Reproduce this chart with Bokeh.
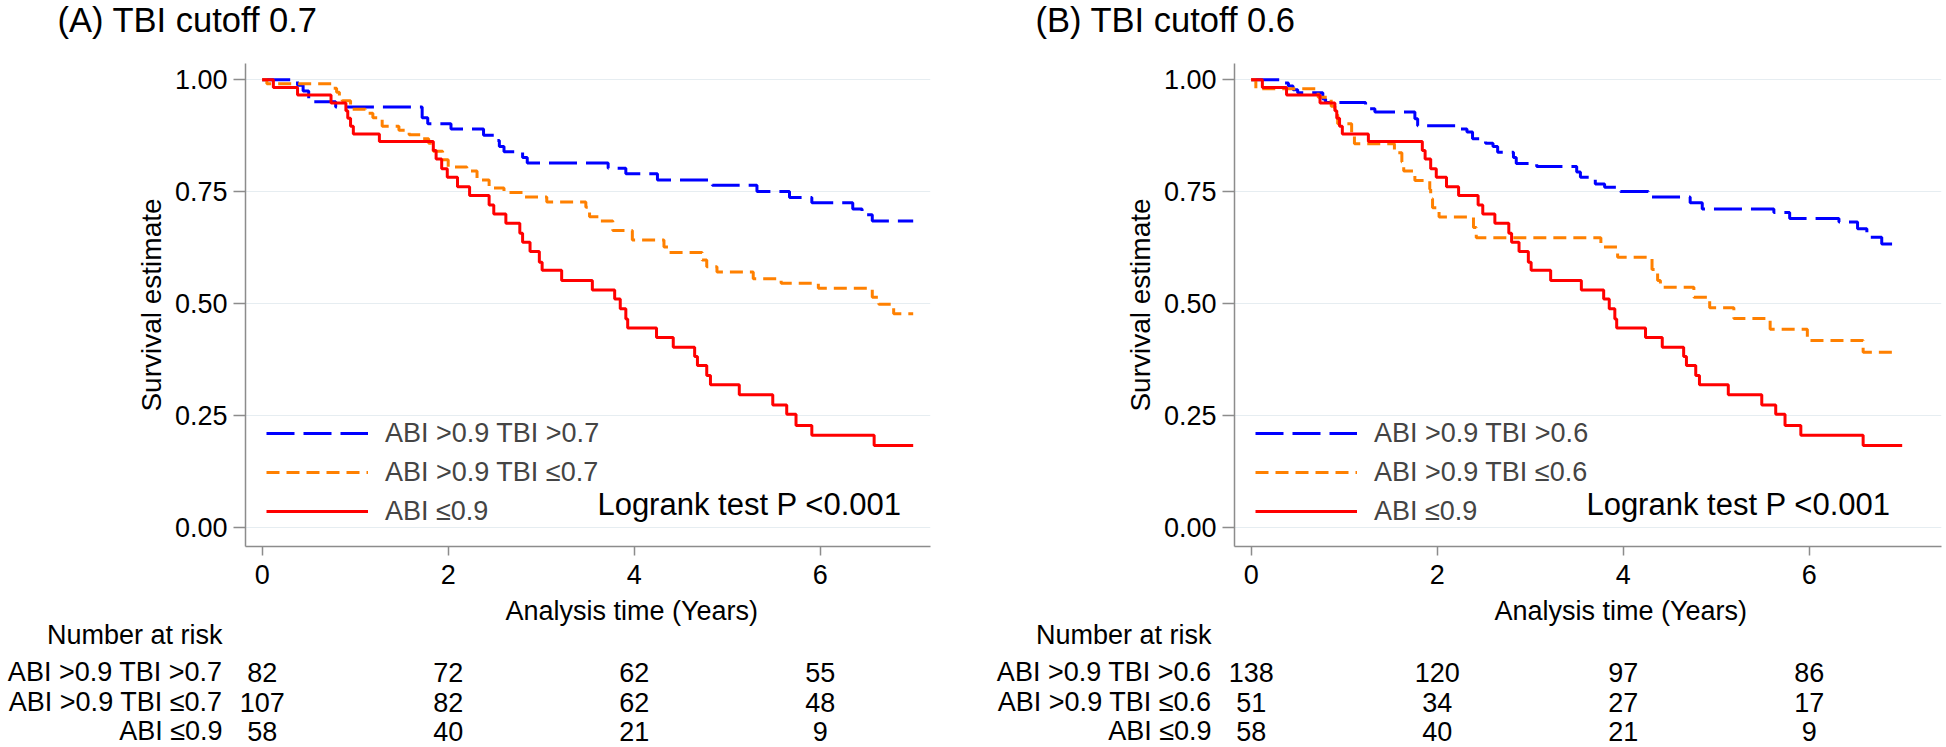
from bokeh.plotting import figure
from bokeh.models import Range1d, FixedTicker, PrintfTickFormatter, Legend, LegendItem
from bokeh.layouts import row
from bokeh.embed import file_html
from bokeh.resources import INLINE
from bokeh.core.properties import value

FONT = "Liberation Sans"

# ---------------- data ----------------
X_TICKS = [0, 2, 4, 6]
Y_TICKS = [0.0, 0.25, 0.5, 0.75, 1.0]
RISK_TIMES = [0, 2, 4, 6]

# Panel A: TBI cutoff 0.7
A_BLUE_T = [0, 0.38, 0.44, 0.50, 0.79, 1.72, 1.78, 2.03, 2.38, 2.50, 2.55, 2.60, 2.80, 2.85, 3.72, 3.91,
            4.25, 4.84, 5.32, 5.67, 5.91, 6.35, 6.45, 6.56, 7.00]
A_BLUE_S = [1.0, 0.988, 0.975, 0.951, 0.939, 0.915, 0.902, 0.890, 0.876, 0.864, 0.851, 0.839, 0.826, 0.814,
            0.802, 0.790, 0.776, 0.764, 0.750, 0.737, 0.725, 0.711, 0.698, 0.684, 0.684]
A_ORANGE_T = [0, 0.05, 0.745, 0.80, 0.83, 0.86, 0.95, 1.11, 1.19, 1.29, 1.47, 1.58, 1.73, 1.79, 1.84, 1.94,
              2.00, 2.20, 2.31, 2.44, 2.60, 2.80, 3.06, 3.48, 3.52, 3.64, 3.77, 3.98, 4.32, 4.37, 4.73, 4.78,
              4.89, 5.28, 5.58, 5.98, 6.56, 6.63, 6.79, 7.00]
A_ORANGE_S = [1.0, 0.991, 0.981, 0.972, 0.962, 0.953, 0.934, 0.925, 0.915, 0.896, 0.887, 0.877, 0.868, 0.858,
              0.840, 0.821, 0.805, 0.796, 0.776, 0.758, 0.748, 0.738, 0.727, 0.715, 0.694, 0.684, 0.663, 0.642,
              0.626, 0.614, 0.597, 0.582, 0.570, 0.555, 0.545, 0.534, 0.514, 0.498, 0.477, 0.477]
# ABI <=0.9 group (same group in both panels)
RED_T = [0, 0.12, 0.38, 0.74, 0.90, 0.92, 0.95, 0.98, 1.26, 1.84, 1.87, 1.93, 1.99, 2.10, 2.23, 2.44, 2.49,
         2.62, 2.77, 2.80, 2.88, 2.98, 3.01, 3.22, 3.55, 3.79, 3.85, 3.91, 3.93, 4.24, 4.42, 4.65, 4.68, 4.78,
         4.82, 5.13, 5.49, 5.64, 5.74, 5.91, 6.58, 7.00]
RED_S = [1.0, 0.983, 0.966, 0.948, 0.931, 0.914, 0.896, 0.879, 0.862, 0.842, 0.823, 0.801, 0.782, 0.761, 0.741,
         0.720, 0.700, 0.679, 0.657, 0.637, 0.616, 0.592, 0.574, 0.551, 0.530, 0.510, 0.488, 0.465, 0.445, 0.424,
         0.402, 0.381, 0.361, 0.339, 0.318, 0.296, 0.273, 0.252, 0.227, 0.205, 0.182, 0.182]

# Panel B: TBI cutoff 0.6
B_BLUE_T = [0, 0.36, 0.40, 0.45, 0.50, 0.77, 0.80, 1.23, 1.33, 1.76, 1.79, 2.25, 2.32, 2.38, 2.52, 2.60, 2.65,
            2.82, 2.85, 3.07, 3.50, 3.54, 3.70, 3.80, 3.97, 4.27, 4.72, 4.85, 5.62, 5.79, 6.32, 6.52, 6.62,
            6.78, 6.98]
B_BLUE_S = [1.0, 0.993, 0.986, 0.978, 0.971, 0.957, 0.949, 0.935, 0.928, 0.913, 0.897, 0.890, 0.883, 0.868,
            0.858, 0.851, 0.838, 0.826, 0.813, 0.806, 0.794, 0.782, 0.767, 0.760, 0.750, 0.738, 0.725, 0.711,
            0.703, 0.690, 0.682, 0.667, 0.648, 0.633, 0.633]
B_ORANGE_T = [0, 0.05, 0.72, 0.86, 0.90, 0.93, 1.08, 1.11, 1.54, 1.62, 1.64, 1.76, 1.92, 1.93, 1.95, 2.02,
              2.39, 2.42, 3.76, 3.94, 4.31, 4.37, 4.40, 4.76, 4.93, 5.19, 5.58, 5.98, 6.58, 6.94]
B_ORANGE_S = [1.0, 0.980, 0.961, 0.941, 0.922, 0.902, 0.878, 0.857, 0.837, 0.816, 0.796, 0.775, 0.755, 0.734,
              0.714, 0.693, 0.670, 0.647, 0.626, 0.603, 0.576, 0.551, 0.536, 0.514, 0.490, 0.466, 0.442, 0.417,
              0.391, 0.391]

A_LABELS = ["ABI >0.9 TBI >0.7", "ABI >0.9 TBI \u22640.7", "ABI \u22640.9"]
B_LABELS = ["ABI >0.9 TBI >0.6", "ABI >0.9 TBI \u22640.6", "ABI \u22640.9"]
RISK_A_HIGH = [82, 72, 62, 55]
RISK_A_LOW = [107, 82, 62, 48]
RISK_RED = [58, 40, 21, 9]
RISK_B_HIGH = [138, 120, 97, 86]
RISK_B_LOW = [51, 34, 27, 17]

# ---------------- layout / style ----------------
BLUE, ORANGE, RED = "#0000ff", "#ff8000", "#ff0000"
DASHES = ["28 9", "13 7", "solid"]
AXIS_COLOR = "#8c8c8c"
PPX = 93.0            # pixels per year
PPY = 447.2           # pixels per unit of survival
FRAME_LEFT = 245
X0_OFF = 16.7         # x = 0 lies this far right of the frame edge
HEAD_H = 63
FRAME_H = 483
AXIS_H = 49
KM_BOTTOM = HEAD_H + FRAME_H + AXIS_H
FOOT_H = 746 - KM_BOTTOM
X_START = -X0_OFF / PPX
Y_START = -19.5 / PPY
Y_END = 463.5 / PPY


def text(p, xs, ys, texts, size, align):
    p.text(x=xs, y=ys, text=texts, text_font=value(FONT), text_font_size=value(size),
           text_align=align, text_baseline="middle", text_color="black")


def strip(fig_w, h):
    xs = -(FRAME_LEFT + X0_OFF) / PPX
    p = figure(width=fig_w, height=h, output_backend="svg", toolbar_location=None,
               x_range=Range1d(xs, xs + fig_w / PPX), y_range=Range1d(h, 0),
               x_axis_location=None, y_axis_location=None,
               min_border=0, min_border_left=0, min_border_right=0, min_border_top=0, min_border_bottom=0)
    p.outline_line_color = None
    p.xgrid.visible = False
    p.ygrid.visible = False
    return p


def make_panel(title, title_px, fig_w, frame_w, curves, labels, risk):
    # panel title
    head = strip(fig_w, HEAD_H)
    text(head, [title_px / PPX], [19.5], [title], "34.5px", "left")

    # survival curves
    p = figure(width=fig_w, height=FRAME_H + AXIS_H, output_backend="svg", toolbar_location=None,
               x_range=Range1d(X_START, X_START + frame_w / PPX),
               y_range=Range1d(Y_START, Y_END),
               min_border_left=FRAME_LEFT, min_border_right=fig_w - FRAME_LEFT - frame_w,
               min_border_top=0, min_border_bottom=AXIS_H)
    p.outline_line_color = None
    p.xgrid.visible = False
    p.ygrid.grid_line_color = "#e6edf1"
    p.ygrid.grid_line_width = 1
    p.xaxis.ticker = FixedTicker(ticks=X_TICKS)
    p.yaxis.ticker = FixedTicker(ticks=Y_TICKS)
    p.ygrid.ticker = FixedTicker(ticks=Y_TICKS)
    p.yaxis.formatter = PrintfTickFormatter(format="%.2f")
    for ax in (p.xaxis[0], p.yaxis[0]):
        ax.axis_line_color = AXIS_COLOR
        ax.axis_line_width = 1.5
        ax.major_tick_line_color = AXIS_COLOR
        ax.major_tick_line_width = 1.5
        ax.minor_tick_line_color = None
        ax.major_tick_in = 0
        ax.major_label_text_font = FONT
        ax.major_label_text_font_size = "27px"
        ax.major_label_text_color = "black"
    p.yaxis.major_tick_out = 12
    p.yaxis.major_label_standoff = 6
    p.xaxis.major_tick_out = 9
    p.xaxis.major_label_standoff = 9
    p.yaxis.axis_label = "Survival estimate"
    p.yaxis.axis_label_text_font = FONT
    p.yaxis.axis_label_text_font_size = "28px"
    p.yaxis.axis_label_text_font_style = "normal"
    p.yaxis.axis_label_text_color = "black"
    p.yaxis.axis_label_standoff = 5

    items = []
    for (t, s), col, dash, lab in zip(curves, [BLUE, ORANGE, RED], DASHES, labels):
        r = p.step(t, s, mode="after", line_color=col, line_width=3, line_dash=dash)
        items.append(LegendItem(label=lab, renderers=[r]))
    legend = Legend(items=items, location=(21, 16), glyph_width=102, glyph_height=38, label_height=38,
                    spacing=1, padding=0, margin=0, label_standoff=17,
                    label_text_font=FONT, label_text_font_size="27px",
                    border_line_color=None, background_fill_alpha=0)
    p.add_layout(legend)
    text(p, [335.2 / PPX], [(526.5 - 504) / PPY], ["Logrank test P <0.001"], "31px", "left")

    # x-axis title and number-at-risk table
    foot = strip(fig_w, FOOT_H)
    text(foot, [369.5 / PPX], [610 - KM_BOTTOM], ["Analysis time (Years)"], "27px", "center")
    row_y = [634 - KM_BOTTOM, 671.5 - KM_BOTTOM, 701.5 - KM_BOTTOM, 730.5 - KM_BOTTOM]
    text(foot, [-39.7 / PPX] * 4, row_y, ["Number at risk"] + labels, "27px", "right")
    for counts, y in zip(risk, row_y[1:]):
        text(foot, RISK_TIMES, [y] * len(RISK_TIMES), [str(c) for c in counts], "27px", "center")
    return head, p, foot


hA, kA, fA = make_panel("(A) TBI cutoff 0.7", 57 - 261.7, 989, 685,
                        [(A_BLUE_T, A_BLUE_S), (A_ORANGE_T, A_ORANGE_S), (RED_T, RED_S)],
                        A_LABELS, [RISK_A_HIGH, RISK_A_LOW, RISK_RED])
hB, kB, fB = make_panel("(B) TBI cutoff 0.6", 1035 - 1250.7, 956, 707,
                        [(B_BLUE_T, B_BLUE_S), (B_ORANGE_T, B_ORANGE_S), (RED_T, RED_S)],
                        B_LABELS, [RISK_B_HIGH, RISK_B_LOW, RISK_RED])

roots = [row(hA, hB, spacing=0), row(kA, kB, spacing=0), row(fA, fB, spacing=0)]
open("out.html", "w").write(file_html(roots, INLINE))
